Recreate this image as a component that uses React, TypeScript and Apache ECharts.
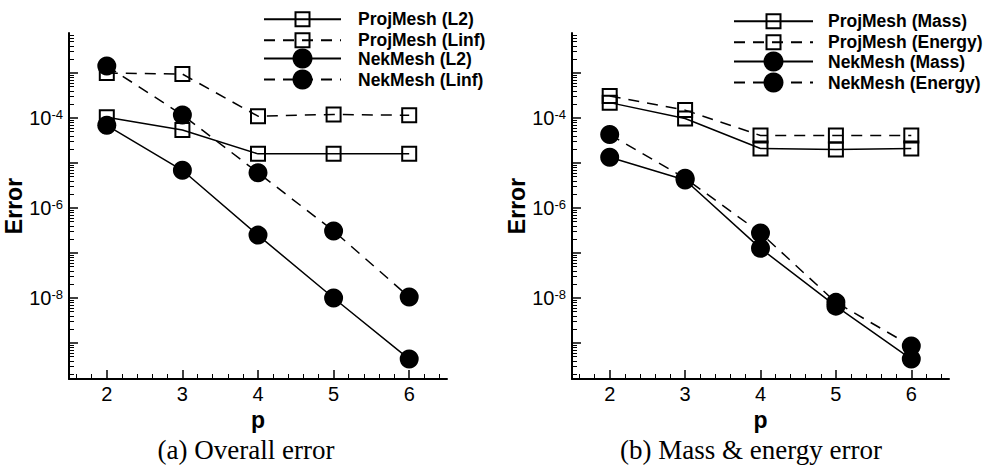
import React, { useEffect, useRef } from "react";
import * as echarts from "echarts";

// ---- data ----
const pValues = [2, 3, 4, 5, 6];

// (a) Overall error
const projL2 = [1.04e-4, 5.4e-5, 1.6e-5, 1.6e-5, 1.6e-5];
const projLinf = [1.0e-3, 9.5e-4, 1.1e-4, 1.2e-4, 1.15e-4];
const nekL2 = [6.9e-5, 6.9e-6, 2.5e-7, 1.0e-8, 4.4e-10];
const nekLinf = [1.44e-3, 1.17e-4, 6.1e-6, 3.1e-7, 1.05e-8];

// (b) Mass & energy error
const projMass = [2.2e-4, 9.8e-5, 2.1e-5, 2.0e-5, 2.1e-5];
const projEnergy = [3.1e-4, 1.5e-4, 4.1e-5, 4.1e-5, 4.1e-5];
const nekMass = [1.34e-5, 4.2e-6, 1.27e-7, 6.6e-9, 4.4e-10];
const nekEnergy = [4.3e-5, 4.6e-6, 2.8e-7, 8.0e-9, 8.6e-10];

// ticks / labels
const xTickValues = [2, 3, 4, 5, 6];
const yMajorExponents = [-9, -8, -7, -6, -5, -4, -3];
const yLabelExponents = [-8, -6, -4];
const captionA = "(a) Overall error";
const captionB = "(b) Mass & energy error";

const X_MIN = 1.5;
const X_MAX = 6.5;
const Y_MIN = -9.8;
const Y_MAX = -2.11;

const FONT = '"Liberation Sans", Arial, Helvetica, sans-serif';

const xMinorTicks: number[] = [];
for (let i = 16; i <= 64; i += 2) {
  if (i % 10 !== 0) xMinorTicks.push(i / 10);
}
const yMinorTicks: number[] = [];
for (let e = -10; e <= -2; e++) {
  for (let k = 2; k <= 9; k++) {
    const v = e + Math.log10(k);
    if (v > Y_MIN && v < Y_MAX) yMinorTicks.push(v);
  }
}

function toPoints(vals: number[]) {
  return pValues.map((p, i) => [p, Math.log10(vals[i])]);
}

function makeXAxes(gridIndex: number) {
  return [
    {
      type: "value",
      gridIndex,
      min: X_MIN,
      max: X_MAX,
      position: "bottom",
      axisLine: { show: true, onZero: false, lineStyle: { color: "#000", width: 2 } },
      axisTick: {
        show: true,
        inside: true,
        length: 9,
        customValues: xTickValues,
        lineStyle: { color: "#000", width: 1.5 },
      },
      axisLabel: {
        show: true,
        customValues: xTickValues,
        color: "#000",
        fontSize: 20,
        fontFamily: FONT,
        margin: 5,
      },
      splitLine: { show: false },
      name: "p",
      nameLocation: "middle",
      nameGap: 22,
      nameTextStyle: { fontSize: 23, fontWeight: "bold", color: "#000", fontFamily: FONT },
    },
    {
      type: "value",
      gridIndex,
      min: X_MIN,
      max: X_MAX,
      position: "bottom",
      axisLine: { show: false, onZero: false },
      axisTick: {
        show: true,
        inside: true,
        length: 5,
        customValues: xMinorTicks,
        lineStyle: { color: "#000", width: 1 },
      },
      axisLabel: { show: false },
      splitLine: { show: false },
    },
  ];
}

function makeYAxes(gridIndex: number) {
  return [
    {
      type: "value",
      gridIndex,
      min: Y_MIN,
      max: Y_MAX,
      position: "left",
      axisLine: { show: true, onZero: false, lineStyle: { color: "#000", width: 2 } },
      axisTick: {
        show: true,
        inside: true,
        length: 9,
        customValues: yMajorExponents,
        lineStyle: { color: "#000", width: 1.5 },
      },
      axisLabel: {
        show: true,
        customValues: yLabelExponents,
        margin: 6,
        formatter: (v: number) => `{b|10}{s|${Math.round(v)}}`,
        rich: {
          b: { fontSize: 20, fontFamily: FONT, color: "#000" },
          s: { fontSize: 13, fontFamily: FONT, color: "#000", verticalAlign: "top" },
        },
      },
      splitLine: { show: false },
      name: "Error",
      nameLocation: "middle",
      nameGap: 36,
      nameTextStyle: { fontSize: 23, fontWeight: "bold", color: "#000", fontFamily: FONT },
    },
    {
      type: "value",
      gridIndex,
      min: Y_MIN,
      max: Y_MAX,
      position: "left",
      axisLine: { show: false, onZero: false },
      axisTick: {
        show: true,
        inside: true,
        length: 5,
        customValues: yMinorTicks,
        lineStyle: { color: "#000", width: 1 },
      },
      axisLabel: { show: false },
      splitLine: { show: false },
    },
  ];
}

function squareSeries(name: string, vals: number[], axisIdx: number, dashed: boolean) {
  return {
    type: "line",
    name,
    xAxisIndex: axisIdx,
    yAxisIndex: axisIdx,
    data: toPoints(vals),
    symbol: "rect",
    symbolSize: 14,
    showSymbol: true,
    itemStyle: { color: "rgba(255,255,255,0)", borderColor: "#000", borderWidth: 2 },
    lineStyle: { color: "#000", width: 1.5, type: dashed ? [11, 8] : "solid" },
    z: 3,
  };
}

function circleSeries(name: string, vals: number[], axisIdx: number, dashed: boolean) {
  return {
    type: "line",
    name,
    xAxisIndex: axisIdx,
    yAxisIndex: axisIdx,
    data: toPoints(vals),
    symbol: "circle",
    symbolSize: 19,
    showSymbol: true,
    itemStyle: { color: "#000", borderWidth: 0 },
    lineStyle: { color: "#000", width: 1.5, type: dashed ? [11, 8] : "solid" },
    z: 2,
  };
}

function legendItem(name: string, left: number, top: number, itemWidth: number, itemHeight: number, textPad: number) {
  return {
    data: [name],
    left,
    top,
    orient: "vertical",
    padding: 0,
    itemWidth,
    itemHeight,
    selectedMode: false,
    textStyle: {
      fontSize: 17.5,
      fontWeight: "bold",
      fontFamily: FONT,
      color: "#000",
      padding: [0, 0, 0, textPad],
    },
  };
}

const option: any = {
  animation: false,
  backgroundColor: "#fff",
  grid: [
    { left: 69, top: 33, width: 378, height: 346, containLabel: false },
    { left: 572, top: 33, width: 377, height: 346, containLabel: false },
  ],
  xAxis: [...makeXAxes(0), ...makeXAxes(1)],
  yAxis: [...makeYAxes(0), ...makeYAxes(1)],
  legend: [
    legendItem("ProjMesh (L2)", 263, 10.25, 77, 17.5, 12),
    legendItem("ProjMesh (Linf)", 263, 31.25, 77, 17.5, 12),
    legendItem("NekMesh (L2)", 263, 48.5, 77, 25, 12),
    legendItem("NekMesh (Linf)", 263, 69.5, 77, 25, 12),
    legendItem("ProjMesh (Mass)", 733, 12.25, 79, 17.5, 10),
    legendItem("ProjMesh (Energy)", 733, 33.25, 79, 17.5, 10),
    legendItem("NekMesh (Mass)", 733, 51.5, 79, 25, 10),
    legendItem("NekMesh (Energy)", 733, 72.5, 79, 25, 10),
  ],
  series: [
    squareSeries("ProjMesh (L2)", projL2, 0, false),
    squareSeries("ProjMesh (Linf)", projLinf, 0, true),
    circleSeries("NekMesh (L2)", nekL2, 0, false),
    circleSeries("NekMesh (Linf)", nekLinf, 0, true),
    squareSeries("ProjMesh (Mass)", projMass, 2, false),
    squareSeries("ProjMesh (Energy)", projEnergy, 2, true),
    circleSeries("NekMesh (Mass)", nekMass, 2, false),
    circleSeries("NekMesh (Energy)", nekEnergy, 2, true),
  ],
  graphic: [
    {
      type: "text",
      x: 246,
      y: 450,
      style: {
        text: captionA,
        font: '27px "Liberation Serif", "Times New Roman", serif',
        fill: "#000",
        textAlign: "center",
        textVerticalAlign: "middle",
      },
    },
    {
      type: "text",
      x: 751,
      y: 450,
      style: {
        text: captionB,
        font: '27px "Liberation Serif", "Times New Roman", serif',
        fill: "#000",
        textAlign: "center",
        textVerticalAlign: "middle",
      },
    },
  ],
};

export default function App() {
  const ref = useRef<HTMLDivElement>(null);
  useEffect(() => {
    if (!ref.current) return;
    const chart = echarts.init(ref.current, null, { renderer: "svg" });
    chart.setOption(option);
    return () => {
      chart.dispose();
    };
  }, []);
  return (
    <div
      ref={ref}
      style={{ position: "fixed", left: 0, top: 0, width: 985, height: 466, background: "#fff" }}
    />
  );
}
